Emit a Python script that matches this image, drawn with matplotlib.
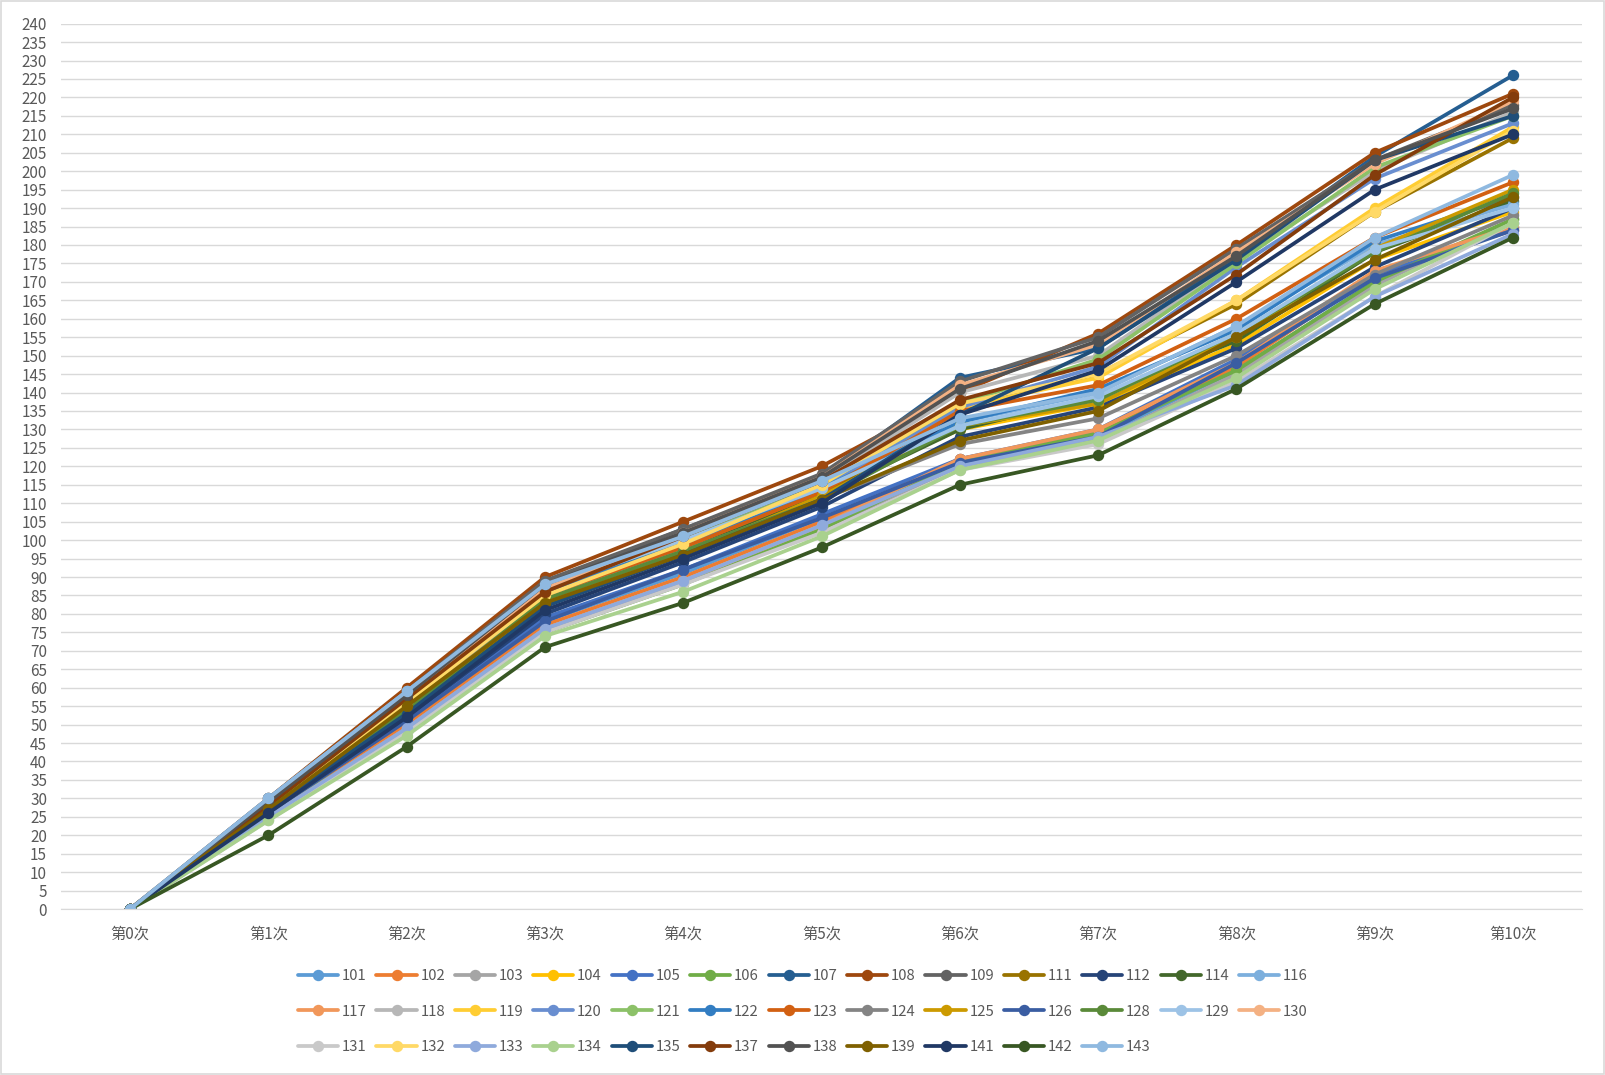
import matplotlib
matplotlib.use("Agg")
import matplotlib.pyplot as plt
from matplotlib.patches import Rectangle

plt.rcParams['font.family'] = ['Noto Sans CJK SC', 'DejaVu Sans']

categories = ["第0次", "第1次", "第2次", "第3次", "第4次", "第5次",
              "第6次", "第7次", "第8次", "第9次", "第10次"]

series_names = ["101", "102", "103", "104", "105", "106", "107", "108", "109",
                "111", "112", "114", "116", "117", "118", "119", "120", "121",
                "122", "123", "124", "125", "126", "128", "129", "130", "131",
                "132", "133", "134", "135", "137", "138", "139", "141", "142", "143"]

colors = ["#5B9BD5", "#ED7D31", "#A5A5A5", "#FFC000", "#4472C4", "#70AD47",
          "#255E91", "#9E480E", "#636363", "#997300", "#264478", "#43682B",
          "#7CAFDD", "#F1975A", "#B7B7B7", "#FFCD33", "#698ED0", "#8CC168",
          "#327DC2", "#D26012", "#848484", "#CC9A00", "#3A5DA2", "#5A8A39",
          "#9DC3E6", "#F4B183", "#C9C9C9", "#FFD966", "#8FAADC", "#A9D18E",
          "#1F4E79", "#843C0C", "#525252", "#7F6000", "#203864", "#385723",
          "#8FB9E0"]

s101 = [0, 26, 51, 78, 91, 106, 121, 128, 146, 170, 186]
s102 = [0, 25, 50, 77, 90, 105, 122, 129, 147, 172, 184]
s103 = [0, 25, 49, 76, 89, 103, 120, 127, 145, 169, 187]
s104 = [0, 29, 57, 85, 98, 113, 130, 137, 153, 176, 189]
s105 = [0, 27, 52, 79, 92, 107, 122, 130, 149, 172, 185]
s106 = [0, 26, 48, 75, 88, 103, 121, 129, 146, 170, 187]
s107 = [0, 29, 58, 88, 103, 117, 144, 152, 177, 204, 226]
s108 = [0, 30, 60, 90, 105, 120, 140, 156, 180, 205, 221]
s109 = [0, 30, 59, 89, 103, 118, 143, 155, 179, 203, 218]
s111 = [0, 28, 56, 85, 97, 112, 136, 145, 164, 189, 209]
s112 = [0, 26, 52, 80, 94, 109, 128, 136, 152, 174, 190]
s114 = [0, 26, 53, 83, 97, 112, 130, 139, 154, 178, 192]
s116 = [0, 30, 59, 87, 100, 115, 132, 140, 158, 180, 191]
s117 = [0, 25, 49, 76, 89, 104, 122, 130, 148, 173, 185]
s118 = [0, 28, 57, 87, 101, 116, 140, 150, 176, 200, 216]
s119 = [0, 27, 55, 84, 98, 114, 136, 144, 165, 190, 212]
s120 = [0, 28, 57, 85, 99, 114, 136, 147, 174, 198, 213]
s121 = [0, 29, 58, 86, 100, 115, 137, 149, 175, 201, 215]
s122 = [0, 29, 57, 86, 99, 114, 132, 141, 157, 181, 193]
s123 = [0, 28, 56, 85, 98, 113, 135, 142, 160, 182, 197]
s124 = [0, 28, 56, 84, 97, 111, 126, 133, 150, 172, 188]
s125 = [0, 27, 55, 83, 96, 112, 131, 137, 155, 179, 195]
s126 = [0, 26, 51, 78, 92, 106, 121, 128, 148, 171, 184]
s128 = [0, 27, 54, 84, 97, 111, 131, 138, 156, 178, 194]
s129 = [0, 29, 58, 87, 100, 114, 131, 139, 156, 179, 190]
s130 = [0, 29, 58, 87, 102, 117, 142, 153, 178, 202, 219]
s131 = [0, 24, 48, 75, 88, 102, 119, 126, 143, 166, 186]
s132 = [0, 28, 56, 85, 99, 115, 137, 145, 165, 189, 211]
s133 = [0, 25, 49, 76, 89, 104, 120, 128, 142, 166, 183]
s134 = [0, 24, 47, 74, 86, 101, 119, 127, 144, 168, 186]
s135 = [0, 27, 53, 82, 96, 111, 134, 152, 176, 203, 215]
s137 = [0, 28, 57, 86, 101, 116, 138, 148, 172, 199, 220]
s138 = [0, 29, 58, 88, 102, 117, 141, 154, 177, 203, 217]
s139 = [0, 27, 55, 83, 96, 111, 127, 135, 155, 176, 193]
s141 = [0, 26, 52, 81, 95, 110, 134, 146, 170, 195, 210]
s142 = [0, 20, 44, 71, 83, 98, 115, 123, 141, 164, 182]
s143 = [0, 30, 59, 88, 101, 116, 133, 140, 158, 182, 199]

values = [s101, s102, s103, s104, s105, s106, s107, s108, s109, s111, s112,
          s114, s116, s117, s118, s119, s120, s121, s122, s123, s124, s125,
          s126, s128, s129, s130, s131, s132, s133, s134, s135, s137, s138,
          s139, s141, s142, s143]

yticks = list(range(0, 241, 5))

fig = plt.figure(figsize=(16.05, 10.75), dpi=100)
ax = fig.add_axes([0.038, 0.1544, 0.9477, 0.8236])

x = list(range(len(categories)))
handles = []
for name, col, vals in zip(series_names, colors, values):
    h, = ax.plot(x, vals, color=col, lw=2.7, marker='o', markersize=7.2,
                 markerfacecolor=col, markeredgecolor=col, label=name,
                 solid_capstyle='round', solid_joinstyle='round')
    handles.append(h)

ax.set_xlim(-0.5, 10.5)
ax.set_ylim(0, 240)
ax.set_yticks(yticks)
ax.set_xticks(x)
ax.set_xticklabels(categories)
ax.grid(axis='y', color='#D9D9D9', lw=1)
ax.set_axisbelow(True)
for s in ['top', 'right', 'left']:
    ax.spines[s].set_visible(False)
ax.spines['bottom'].set_color('#D9D9D9')
ax.tick_params(axis='both', length=0, colors='#595959', labelsize=11)
ax.tick_params(axis='x', pad=12)
ax.tick_params(axis='y', pad=10)

# reorder for row-major legend layout
ncol = 13
n = len(handles)
order = []
for j in range(ncol):
    for r in range(3):
        k = r * ncol + j
        if k < n:
            order.append(k)
leg = fig.legend([handles[k] for k in order], [series_names[k] for k in order],
                 ncol=ncol, loc='upper left', bbox_to_anchor=(0.181, 0.1055),
                 frameon=False, fontsize=10.7, handlelength=2.7,
                 handletextpad=0.25, columnspacing=0.66, labelspacing=1.45,
                 borderpad=0, labelcolor='#595959')

fig.patches.append(Rectangle((0.0008, 0.0008), 0.9984, 0.9984, transform=fig.transFigure,
                             fill=False, edgecolor='#D9D9D9', lw=1.2))

fig.savefig("out.png", dpi=100, facecolor='white')
